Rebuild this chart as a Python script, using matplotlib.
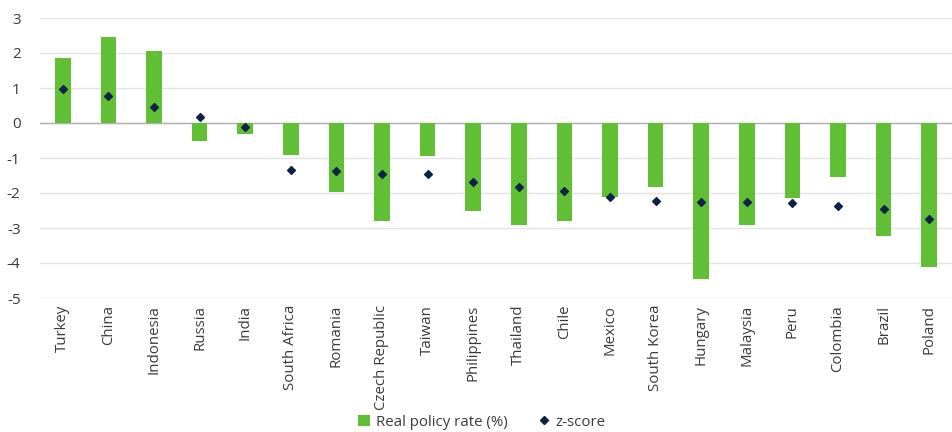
import matplotlib
matplotlib.use("Agg")
import matplotlib.pyplot as plt
from matplotlib.lines import Line2D
from matplotlib.patches import Patch
import numpy as np

plt.rcParams['font.family'] = ['Open Sans', 'DejaVu Sans']

countries = ["Turkey", "China", "Indonesia", "Russia", "India", "South Africa",
             "Romania", "Czech Republic", "Taiwan", "Philippines", "Thailand",
             "Chile", "Mexico", "South Korea", "Hungary", "Malaysia", "Peru",
             "Colombia", "Brazil", "Poland"]
real_policy_rate = [1.87, 2.45, 2.07, -0.52, -0.31, -0.91, -1.98, -2.81, -0.95, -2.50,
                    -2.90, -2.81, -2.10, -1.83, -4.45, -2.92, -2.14, -1.54, -3.24, -4.11]
z_score = [0.97, 0.76, 0.46, 0.18, -0.11, -1.35, -1.38, -1.46, -1.46, -1.69,
           -1.84, -1.95, -2.10, -2.23, -2.26, -2.26, -2.29, -2.38, -2.46, -2.73]
y_ticks = [3, 2, 1, 0, -1, -2, -3, -4, -5]

bar_color = "#61bf36"
dot_color = "#0d2247"
text_color = "#3a3a3a"

fig = plt.figure(figsize=(9.53, 4.32), dpi=100)
ax = fig.add_axes([40 / 953, 1 - 298 / 432, 912 / 953, 280 / 432])

x = np.arange(len(countries))
ax.bar(x, real_policy_rate, width=0.34, color=bar_color, zorder=2)
ax.scatter(x, z_score, marker="D", s=16, color=dot_color, zorder=3)

ax.set_xlim(-0.5, len(countries) - 0.5)
ax.set_ylim(-5, 3)
ax.set_yticks(y_ticks)
ax.set_yticklabels([str(v) for v in y_ticks])
ax.yaxis.grid(True, color="#e3e3e3", linewidth=1.0, zorder=0)
ax.axhline(0, color="#b0b0b0", linewidth=1.0, zorder=1)
ax.set_axisbelow(True)

ax.set_xticks(x)
ax.set_xticklabels(countries, rotation=90, fontsize=10.8, color=text_color)
ax.tick_params(axis="x", length=0, pad=5)
ax.tick_params(axis="y", length=0, labelsize=11, labelcolor=text_color, pad=14)
for s in ax.spines.values():
    s.set_visible(False)

handles = [Patch(facecolor=bar_color, edgecolor="none"),
           Line2D([], [], linestyle="none", marker="D", markersize=4, color=dot_color)]
fig.legend(handles, ["Real policy rate (%)", "z-score"], loc="center",
           bbox_to_anchor=(482 / 953, 1 - 422 / 432), ncol=2, frameon=False,
           fontsize=10.8, handlelength=0.8, handleheight=0.8, handletextpad=0.4,
           columnspacing=2.0, labelcolor=text_color)

fig.savefig("out.png", dpi=100)
